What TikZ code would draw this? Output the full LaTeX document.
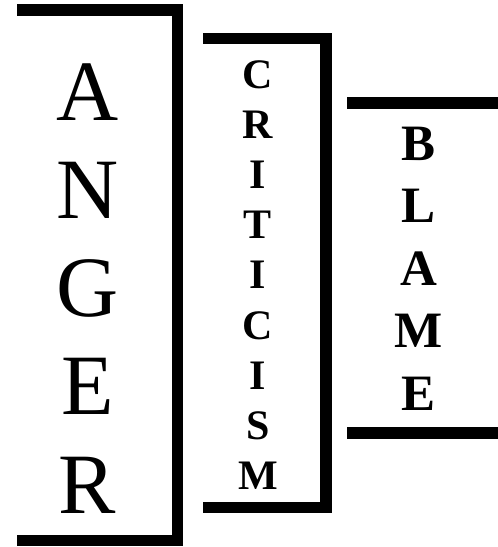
\documentclass[tikz,border=0pt]{standalone}
\usepackage{fontspec}
\setmainfont{Liberation Serif}
\begin{document}
\begin{tikzpicture}[x=1pt,y=-1pt,
  bar/.style={line width=11.5pt, line join=miter, line cap=butt},
  big/.style={inner sep=0pt, anchor=base, font=\fontsize{86}{86}\selectfont},
  mid/.style={inner sep=0pt, anchor=base, font=\fontsize{42}{42}\selectfont\bfseries},
  sml/.style={inner sep=0pt, anchor=base, font=\fontsize{51}{51}\selectfont\bfseries}]
\useasboundingbox (0,0) rectangle (498,547);
% brackets
\draw[bar] (17,10) -- (177.5,10) -- (177.5,540.5) -- (17,540.5);
\draw[bar] (203,38.5) -- (326,38.5) -- (326,507.5) -- (203,507.5);
\draw[bar] (347,103) -- (498,103);
\draw[bar] (347,433) -- (498,433);
% ANGER
\foreach \l [count=\i from 0] in {A,N,G,E,R}
  \node[big] (a\i) at (87.5,120+98.25*\i) {\l};
% CRITICISM
\foreach \l [count=\i from 0] in {C,R,I,T,I,C,I,S,M}
  \node[mid] (c\i) at (258,88.5+50.1*\i) {\l};
% BLAME
\foreach \l [count=\i from 0] in {B,L,A,M,E}
  \node[sml] (b\i) at (419,160+62.5*\i) {\l};
\end{tikzpicture}
\end{document}
